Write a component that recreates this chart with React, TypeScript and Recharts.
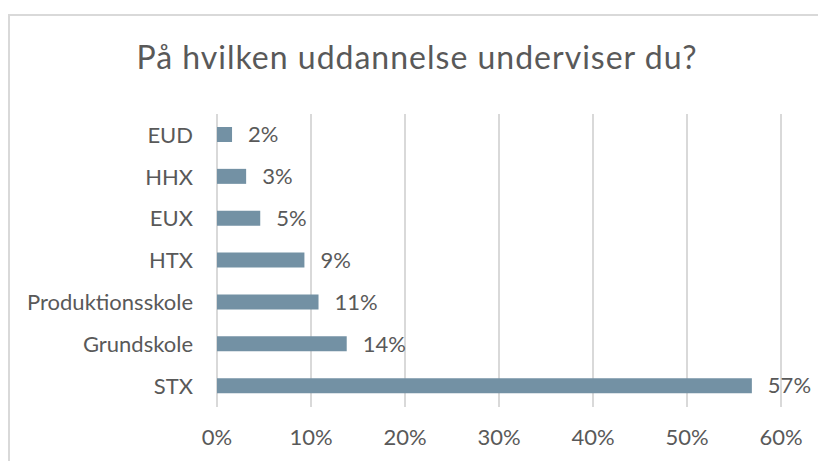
import React from "react";
import { BarChart, Bar, XAxis, YAxis, CartesianGrid, LabelList } from "recharts";

const categories = ["EUD", "HHX", "EUX", "HTX", "Produktionsskole", "Grundskole", "STX"];
const shares = [1.6, 3.1, 4.6, 9.3, 10.8, 13.8, 56.9];
const xTicks = [0, 10, 20, 30, 40, 50, 60];
const title = "På hvilken uddannelse underviser du?";

const data = categories.map((c, i) => ({ name: c, value: shares[i] }));

const FONT = "Lato, 'Open Sans', sans-serif";
const TEXT = "#595959";

export default function App() {
  return (
    <div style={{ position: "absolute", left: 0, top: 0, width: 818, height: 461, background: "#fff", overflow: "hidden", fontFamily: FONT }}>
      <div style={{ position: "absolute", left: 8, top: 14, width: 830, height: 470, borderLeft: "2px solid #d9d9d9", borderTop: "2px solid #d9d9d9", boxSizing: "border-box" }} />
      <div style={{ position: "absolute", left: 8, width: 818, top: 37, textAlign: "center", fontSize: 32, letterSpacing: 1, color: TEXT, lineHeight: "40px", whiteSpace: "nowrap" }}>{title}</div>
      <div style={{ position: "absolute", left: 0, top: 0 }}>
        <BarChart width={818} height={461} data={data} layout="vertical" margin={{ top: 114, right: 37, bottom: 0, left: 0 }} barCategoryGap={0}>
          <CartesianGrid horizontal={false} vertical={true} stroke="#d9d9d9" strokeWidth={2} />
          <XAxis type="number" domain={[0, 60]} ticks={xTicks} axisLine={false} tickLine={false} height={54} tickMargin={16} interval={0}
            tickFormatter={(v: number) => `${v}%`} tick={{ fill: TEXT, fontSize: 22, fontFamily: FONT }} />
          <YAxis type="category" dataKey="name" width={217} axisLine={false} tickLine={false} tickMargin={18} interval={0}
            tick={{ fill: TEXT, fontSize: 22, fontFamily: FONT }} />
          <Bar dataKey="value" fill="#7391a4" barSize={15} isAnimationActive={false}>
            <LabelList dataKey="value" position="right" offset={16} fill={TEXT} fontSize={22} fontFamily={FONT}
              formatter={(v: number) => `${Math.round(v)}%`} />
          </Bar>
        </BarChart>
      </div>
    </div>
  );
}
